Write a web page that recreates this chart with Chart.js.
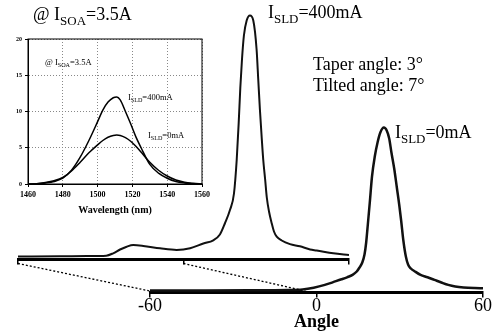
<!DOCTYPE html>
<html>
<head>
<meta charset="utf-8">
<script src="https://cdn.jsdelivr.net/npm/chart.js@4.4.0/dist/chart.umd.min.js"></script>
<style>
  body { margin: 0; background: #fff; }
  .wrap { position: relative; width: 497px; height: 336px; }
  .wrap canvas { position: absolute; left: 0; top: 0; }
</style>
</head>
<body>
<div class="wrap">
  <canvas id="backChart" width="497" height="336"></canvas>
  <canvas id="frontChart" width="497" height="336"></canvas>
  <canvas id="insetChart" width="497" height="336"></canvas>
</div>
<script>
// far field profiles, I_SLD = 400mA (back) and 0mA (front), arb. units
const backAngle = [-60, -45, -35, -28, -25.5, -23, -20.6, -18.2, -14.6, -8.5, -2.5, 2.4, 7.2, 10.8, 13.2, 15, 16.9, 18.3, 19.3, 20, 20.6, 21.2, 21.9, 22.9, 24.1, 25.3, 26.5, 27.1, 27.7, 28.3, 28.9, 29.6, 30.2, 31, 32, 32.8, 33.8, 35.6, 38.6, 42.2, 45.9, 48.3, 54.3, 60];
const backVal = [1.5, 1.6, 1.7, 1.9, 3.1, 5, 6.4, 7.2, 6.8, 5.6, 4.8, 5.6, 8, 9.6, 12.5, 18, 25, 33, 50, 68, 86, 100, 112, 119.5, 122, 119.5, 105, 90, 75, 62, 50, 40, 31, 24, 18, 14, 11.4, 9.5, 7.7, 6.6, 5, 4.5, 3.1, 2.2];

const frontAngle = [-60, -40, -20, -10, -5, -1, 3, 6, 9, 11, 13, 14.5, 15.5, 16.5, 17.3, 17.9, 18.5, 19.2, 20, 21, 22, 23, 24.3, 25.3, 26.2, 27, 28, 29, 29.8, 30.5, 31.3, 32.2, 33, 34, 35.5, 37.5, 40, 42.5, 45, 47.5, 50, 53, 57, 60];
const frontVal = [1.0, 1.0, 1.1, 1.2, 1.5, 2.4, 3.8, 5.2, 6.6, 7.6, 8.8, 10.5, 12.5, 15, 19, 25, 34, 45, 58, 68, 75, 80, 82.5, 81, 77, 70, 62, 52, 44, 36, 26, 18, 14, 12, 10.5, 8.8, 7.6, 6.3, 5, 3.8, 3, 2.5, 2.2, 2.1];

// dotted guides: back axis value -> front axis value
const links = [[-60, -60], [0, -4]];

// inset spectra
const wavelength = [1460, 1465, 1470, 1475, 1480, 1485, 1490, 1495, 1500, 1503, 1506, 1509, 1511, 1513, 1516, 1519, 1522, 1525, 1530, 1535, 1540, 1545, 1550, 1555, 1560];
const spec400 = [0, 0.05, 0.15, 0.35, 0.8, 1.9, 3.7, 6.0, 8.6, 10.2, 11.3, 11.9, 12.0, 11.6, 10.0, 8.3, 6.5, 5.0, 2.7, 1.5, 0.8, 0.35, 0.15, 0.05, 0];
const spec0 = [0, 0.05, 0.2, 0.45, 0.9, 1.8, 3.0, 4.3, 5.4, 6.0, 6.45, 6.7, 6.75, 6.7, 6.4, 5.9, 5.2, 4.4, 3.0, 1.9, 1.1, 0.55, 0.25, 0.1, 0];

const serif = '"Liberation Serif", "Times New Roman", serif';

function pairs(xs, ys) {
  return xs.map((x, i) => ({x: x, y: ys[i]}));
}

// text with subscripts, parts = [[text, isSub], ...]
function drawSub(ctx, x, y, size, parts, bold) {
  parts.forEach(function(p) {
    const s = p[1] ? size * 0.72 : size;
    ctx.font = (bold ? 'bold ' : '') + s + 'px ' + serif;
    ctx.fillText(p[0], x, p[1] ? y + size * 0.25 : y);
    x += ctx.measureText(p[0]).width;
  });
}

function angleAxis(showLabels, areaBottom) {
  return {
    type: 'linear', min: -60, max: 60,
    ticks: { display: showLabels, stepSize: 60, color: '#000', padding: -2,
             font: { family: serif, size: 18 }, maxRotation: 0 },
    grid: { drawOnChartArea: false, tickLength: 5, color: '#000', lineWidth: 1.5 },
    border: { color: '#000', width: 3 },
    afterFit: s => { s.height = 336 - areaBottom; }
  };
}

function curve(xs, ys, w) {
  return { data: pairs(xs, ys), borderColor: '#111', borderWidth: w, pointRadius: 0,
           cubicInterpolationMode: 'monotone', fill: false };
}

const baseOpts = {
  responsive: false, animation: false, events: [],
  plugins: { legend: { display: false }, tooltip: { enabled: false } }
};

const backBottom = 259.5;
const backChart = new Chart(document.getElementById('backChart'), {
  type: 'line',
  data: { datasets: [curve(backAngle, backVal, 2)] },
  options: Object.assign({}, baseOpts, {
    layout: { padding: { left: 18, right: 148, top: backBottom - 250, bottom: 0 } },
    scales: {
      x: angleAxis(false, backBottom),
      y: { display: false, min: 0, max: 125 }
    }
  })
});

const frontDecor = {
  id: 'frontDecor',
  afterDraw(chart) {
    const ctx = chart.ctx;
    const fx = chart.scales.x, bx = backChart.scales.x;
    ctx.save();
    ctx.strokeStyle = '#000';
    ctx.lineWidth = 1.3;
    ctx.setLineDash([2, 2]);
    links.forEach(function(l) {
      ctx.beginPath();
      ctx.moveTo(bx.getPixelForValue(l[0]), backChart.chartArea.bottom + 4);
      ctx.lineTo(fx.getPixelForValue(l[1]), chart.chartArea.bottom - 1.5);
      ctx.stroke();
    });
    ctx.setLineDash([]);
    ctx.fillStyle = '#000';
    ctx.textBaseline = 'alphabetic';
    drawSub(ctx, 33, 20, 18, [['@ I', false], ['SOA', true], ['=3.5A', false]]);
    drawSub(ctx, 268, 18, 18, [['I', false], ['SLD', true], ['=400mA', false]]);
    drawSub(ctx, 395, 138, 18, [['I', false], ['SLD', true], ['=0mA', false]]);
    ctx.font = '18px ' + serif;
    ctx.fillText('Taper angle: 3°', 313, 70);
    ctx.fillText('Tilted angle: 7°', 313, 91);
    ctx.restore();
  }
};

const frontBottom = 292.5;
const frontX = angleAxis(true, frontBottom);
frontX.title = { display: true, text: 'Angle', color: '#000',
                 font: { family: serif, size: 18, weight: 'bold' }, padding: { top: 0, bottom: 3 } };
new Chart(document.getElementById('frontChart'), {
  type: 'line',
  data: { datasets: [curve(frontAngle, frontVal, 2.5)] },
  options: Object.assign({}, baseOpts, {
    layout: { padding: { left: 150, right: 14, top: frontBottom - 250, bottom: 0 } },
    scales: {
      x: frontX,
      y: { display: false, min: 0, max: 125 }
    }
  }),
  plugins: [frontDecor]
});

const insetDecor = {
  id: 'insetDecor',
  afterDraw(chart) {
    const a = chart.chartArea, ctx = chart.ctx;
    ctx.save();
    ctx.strokeStyle = '#000';
    ctx.lineWidth = 1;
    ctx.strokeRect(a.left, a.top, a.right - a.left, a.bottom - a.top);
    ctx.fillStyle = '#000';
    drawSub(ctx, 45, 65, 8.5, [['@ I', false], ['SOA', true], ['=3.5A', false]]);
    drawSub(ctx, 128, 100, 8.5, [['I', false], ['SLD', true], ['=400mA', false]]);
    drawSub(ctx, 148, 138, 8.5, [['I', false], ['SLD', true], ['=0mA', false]]);
    ctx.restore();
  }
};

new Chart(document.getElementById('insetChart'), {
  type: 'line',
  data: {
    datasets: [
      { data: pairs(wavelength, spec400), borderColor: '#000', borderWidth: 1.5, pointRadius: 0, cubicInterpolationMode: 'monotone' },
      { data: pairs(wavelength, spec0), borderColor: '#000', borderWidth: 1.5, pointRadius: 0, cubicInterpolationMode: 'monotone' }
    ]
  },
  options: Object.assign({}, baseOpts, {
    layout: { padding: { left: 0, top: 39, right: 295, bottom: 116 } },
    scales: {
      x: {
        type: 'linear', min: 1460, max: 1560,
        ticks: { stepSize: 20, color: '#000', padding: 3, maxRotation: 0,
                 font: { family: serif, size: 8, weight: 'bold' },
                 callback: v => String(v) },
        grid: { color: '#888', lineWidth: 1, tickLength: 3, tickColor: '#000', tickWidth: 1 },
        border: { color: '#000', width: 1, dash: [1, 2] },
        title: { display: true, text: 'Wavelength (nm)', color: '#000',
                 font: { family: serif, size: 10, weight: 'bold' }, padding: { top: 0, bottom: 4 } },
        afterFit: s => { s.height = 36; }
      },
      y: {
        type: 'linear', min: 0, max: 20,
        ticks: { stepSize: 5, color: '#000', padding: 3,
                 font: { family: serif, size: 6, weight: 'bold' } },
        grid: { color: '#888', lineWidth: 1, tickLength: 3, tickColor: '#000', tickWidth: 1 },
        border: { color: '#000', width: 1, dash: [1, 2] },
        afterFit: s => { s.width = 28; }
      }
    }
  }),
  plugins: [insetDecor]
});
</script>
</body>
</html>
